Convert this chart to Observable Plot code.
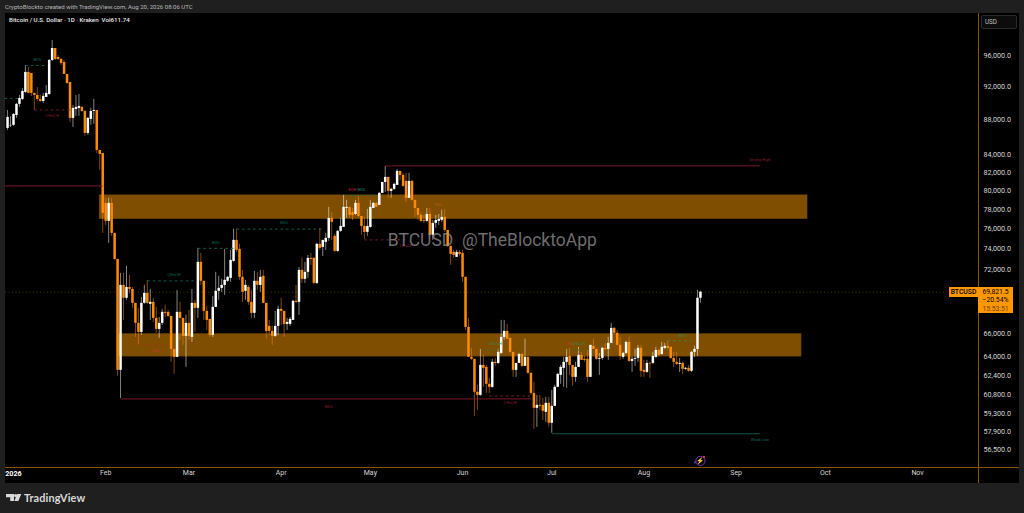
<!DOCTYPE html>
<html><head><meta charset="utf-8">
<script src="https://cdn.jsdelivr.net/npm/d3@7"></script>
<script src="https://cdn.jsdelivr.net/npm/@observablehq/plot@0.6"></script>
<style>
html,body{margin:0;padding:0;width:1024px;height:513px;background:#1f1f1f;overflow:hidden;font-family:Roboto,sans-serif}
.a{position:absolute;white-space:nowrap}
#chart{position:absolute;left:5px;top:13px;width:1014px;height:470px}
</style></head><body>
<div class="a" style="left:5px;top:3px;font-size:6.05px;line-height:8px;color:#b8b8b8">CryptoBlockto created with TradingView.com, Aug 20, 2026 08:06 UTC</div>
<div id="chart"></div>
<div class="a" style="left:9px;top:16px;font-size:6.15px;line-height:9px;color:#e8e8e8;font-weight:500">Bitcoin / U.S. Dollar · 1D · Kraken &nbsp;Vol611.74</div>
<div class="a" style="left:980.5px;top:15px;width:36px;height:14px;box-sizing:border-box;background:#0c0c0c;border:1px solid #2a2a2a;border-radius:2px;font-size:6.3px;line-height:12px;color:#c0c0c0;padding-left:3.5px">USD</div>
<div class="a" style="left:949px;top:287px;width:29px;height:10px;background:#ff9800;color:#000;font-size:6.8px;line-height:10px;text-align:center;font-weight:500">BTCUSD</div>
<div class="a" style="left:978px;top:287px;width:35px;height:26px;background:#ff9800;color:#000;font-size:6.8px;line-height:8.3px;text-align:center;padding-top:1px;box-sizing:border-box">69,821.5<br>−20.54%<br><span style="color:#6b4100">15:53:51</span></div>
<svg class="a" style="left:5px;top:492px" width="17" height="11" viewBox="0 0 17 11"><path d="M1 2h8v7H5.2V5.2H1z" fill="#d9d9d9"/><circle cx="10.6" cy="3.6" r="1.6" fill="#d9d9d9"/><path d="M12.3 2h4l-3 7h-4z" fill="#d9d9d9"/></svg>
<div class="a" style="left:24px;top:490px;font-size:10.9px;line-height:16px;color:#d9d9d9;font-family:Lato,sans-serif;font-weight:700;letter-spacing:.1px">TradingView</div>
<script>
const firstDay = -2;
const opens = [87030,87330,87390,88560,89890,90490,91350,93840,93710,91230,90980,90490,90250,90740,91100,95360,96910,95740,95490,95100,93590,92580,88210,89280,89400,89520,89040,86450,88090,89040,89160,84490,84150,78680,76800,78680,75570,72970,62850,70460,69250,70270,70080,68780,66950,66140,68780,69710,68690,68870,67400,66410,66950,67950,67950,67580,64650,63960,67950,67400,65790,66950,65700,68780,68320,72680,70850,68040,67310,65880,68410,69900,70180,70460,70850,71130,72770,74860,73960,71230,69900,70270,68870,67860,70850,70460,71330,68780,66680,66230,65790,66680,68220,68040,66860,66860,67220,68970,68870,71900,71040,71710,73070,73070,70650,74460,74160,74660,75060,77110,75270,73760,75770,76180,78150,78260,77730,77520,78680,77310,76280,75670,76180,78150,78680,78470,79750,80930,81480,79960,80180,80610,82140,81700,81040,79210,81040,79000,78150,77420,76900,76800,77520,75370,76590,76800,76900,77210,75870,74260,73660,73170,73660,73560,71230,66590,63960,63790,61020,60770,63270,63100,61680,61430,63530,63440,64300,65700,66230,65620,64390,62850,63440,64210,63190,63960,62600,60930,59720,59960,59960,59400,60120,58530,59880,61430,62430,63020,63530,64040,63270,62260,63100,64130,63790,63790,62260,64910,64650,63790,63870,64740,64650,65170,66500,66060,65000,63960,64300,65260,63610,63790,63870,64740,62850,62680,63440,63440,63960,64560,64210,64740,64910,64830,63870,63530,63360,63440,62940,63020,62770,64390,64650,69250];
const closes = [88330,87390,88680,89890,90610,91470,93840,91230,91230,90980,90490,90250,90860,91230,95360,96910,95490,95490,94980,93590,92460,88210,89400,89520,89640,89040,86450,88210,89040,89160,84490,84040,77630,76800,78680,75570,72970,62850,70460,69250,70270,70080,68780,66950,66140,68780,69710,68780,68870,67400,66410,66950,67950,67860,67580,64650,63960,67950,67400,65790,66950,65790,68780,68320,72680,70850,68040,67220,65880,68410,69900,70180,70460,70940,71230,72870,74860,73860,71230,69800,70460,68870,67860,70850,70460,71230,68780,66230,66230,65790,66680,68220,68040,66860,67040,67310,68970,68870,71900,71040,71710,73070,72970,70650,74460,74060,74860,75060,77110,76700,73760,75770,76280,78260,78260,77420,77420,78680,77310,76280,75670,76280,78260,78680,78260,79750,80930,81480,79960,80180,80720,82140,81700,80500,79210,81040,79000,78150,77420,76800,76800,77520,75370,76590,76900,77000,77210,75870,74260,73460,73360,73660,73460,71230,66590,63960,63790,61020,60770,63270,63020,61680,61430,63530,63440,64390,65700,66230,65530,64390,62850,63440,64210,63190,63960,62600,60930,59720,59960,59880,59480,60120,58530,59880,61430,62510,63100,63530,63960,63270,62260,63100,64130,63700,63700,62260,65000,64650,63790,63870,64740,64650,65170,66500,66060,65000,64040,64300,65260,63610,63790,63870,64740,62770,62680,63440,63400,64040,64560,64130,64830,64910,64740,63870,63530,63360,63440,62940,63020,62770,64390,64650,69250,69821.5];
const highs = [89160,88400,88800,90010,90980,91840,94720,94470,93710,91230,91960,90980,91230,92210,95490,97960,96910,96000,95610,95360,93590,92580,89760,90980,91100,89640,89160,88330,89400,90490,89160,84490,84150,79210,79210,79210,75570,72970,71610,71610,72290,71420,70270,68780,68320,69340,70460,70940,70080,69250,68410,67490,68220,68600,68130,67580,64650,69990,68870,67400,67670,68130,70080,69060,74060,73560,70850,68500,67310,69430,71710,71330,71040,73960,71330,73860,76000,76000,74460,71900,70940,70460,69990,71800,71710,71900,71900,68780,67220,66680,68040,68500,69250,68040,67400,67490,69060,70460,72190,73070,72680,73360,73560,73170,74560,76080,74860,75570,78260,77730,75470,75870,77110,79530,79000,78260,78150,79000,79530,77310,77210,78050,79000,78790,78790,79860,80930,82700,81480,80290,80830,82360,82140,81920,81920,81920,81150,79000,78150,77630,77420,78150,78150,76900,77420,77520,78050,78050,75870,74260,73860,73860,73860,73860,71230,67400,64740,63790,61600,64650,64130,63270,62180,63790,63870,64650,67220,67220,66860,65620,64390,63440,64300,64300,65530,63960,62600,61850,60770,60770,60520,60610,60610,61180,61600,62600,63270,63960,64650,64740,63270,63530,64830,64390,64040,64560,65000,65530,64650,64300,64830,65170,65700,66950,66590,66320,65700,64390,65350,65700,64040,64650,65000,65000,63700,63700,63530,64390,64830,64650,65260,65170,65350,64830,64390,64390,63870,63530,63100,63270,64470,64910,69990,69900];
const lows = [86800,87150,87270,88210,89520,90370,91230,91230,90860,89160,90250,90130,90010,90740,90980,95230,95360,95360,94720,93590,92340,87740,87150,88450,88450,88920,86100,86220,87390,87510,84150,82250,75570,76380,74560,75270,72870,62350,60520,67220,69060,69710,68320,65700,65000,65880,68690,68690,67220,67040,66060,65620,66770,67490,67490,63530,62510,63960,65440,65000,63100,65440,65260,66140,67400,70460,67220,66320,65700,65700,68410,69060,69800,69520,70750,70750,72680,73660,70940,68870,69060,68600,67400,67400,69990,69800,68780,65530,65880,65000,65700,65880,66770,65700,66320,66680,67220,68780,67680,70650,70650,71130,72380,70550,70550,73860,73260,73860,74760,74860,73660,73660,75670,76180,77110,77110,76900,77420,77210,75370,74960,75270,76080,78150,78260,78470,79750,79860,79210,79210,80070,80610,81150,80390,78790,79210,78890,77210,76900,76700,76590,76700,75170,74860,76080,76380,76700,75670,74160,72380,73070,73170,73260,70750,66320,63960,63700,59080,59560,60690,61430,60930,60930,61350,63190,63360,64210,65440,65530,64300,62260,62260,63440,63100,63190,62510,60770,58060,58210,59560,58760,58600,58210,57750,59880,61430,61680,61430,61350,62430,61520,61850,63100,63700,63530,61850,62260,64650,63700,62430,63700,64560,63700,65170,65880,65000,63700,63790,64210,63530,62680,63190,63530,62260,62260,62600,62180,63360,63870,64040,64130,64650,64650,63790,63100,63270,62680,62510,62850,62680,62680,63960,64040,68780];

const levelPrices = [90610,94720,89220,80550,70890,74060,76000,65040,60480,60720,74910,79530,82750,78050,64600,64600,65400,57710];
const levelStart = [-3,4,7,-3,45,62,75,42,36,160,118,112,125,140,159,186,220,181];
const levelEnd = [2,11,20,30,61,74,104,52,174,174,132,123,251,145,164,193,228,251];
const levelColors = ["#0c6a5c","#0c6a5c","#8a1c2e","#8a1c2e","#0c6a5c","#0c6a5c","#0c6a5c","#a8301f","#8a1c2e","#8a1c2e","#8a1c2e","#0c6a5c","#8a1c2e","#a8401f","#2f7a3a","#2f7a3a","#2f8a55","#0c5f52"];
const levelDashed = [1,1,1,0,1,1,1,1,0,1,1,1,0,1,1,1,1,0];

const noteTexts = ["BOS","CHoCH","CHoCH","BOS","BOS","BOS","BOS","CHoCH","CHoCH","EQH","BOS","Strong High","EQL","CHoCH","EQ","CHoCH","BOS","Weak Low"];
const noteDays = [8,13,54,68,91,48,106,167,132,114,117,251,143,162,187,190,225,251];
const notePrices = [95490,88560,71510,74660,76690,64560,59880,60200,74360,80180,80180,83470,78580,65100,65100,65100,65880,57280];
const noteColors = ["#0c6a5c","#8a1c2e","#0c6a5c","#0c6a5c","#0c6a5c","#c0392b","#8a1c2e","#8a1c2e","#8a1c2e","#c02030","#0c8a70","#8a1c2e","#c0502b","#2f8a55","#c83a2a","#2f8a55","#1f8a65","#0c6a5c"];

const zoneHigh = [79530,66000];
const zoneLow = [77050,64020];
const zoneStart = [29,35];
const zoneEnd = [267,265];
const zoneEdges = ["#7f4e00","#5e3a00"];

const priceTicks = [96000,92000,88000,84000,82000,80000,78000,76000,74000,72000,66000,64000,62400,60800,59300,57900,56500];
const monthTicks = ["2026-02-01","2026-03-01","2026-04-01","2026-05-01","2026-06-01","2026-07-01","2026-08-01","2026-09-01","2026-10-01","2026-11-01"];
const yearTick = "2026-01-01";
const lastPrice = 69821.5;

const t0 = Date.UTC(2026,0,1);
const day = d => new Date(t0 + d*864e5);
const candles = opens.map((o,i)=>({date:day(firstDay+i),o,c:closes[i],h:highs[i],l:lows[i],up:closes[i]>=o}));
const zones = zoneHigh.map((h,i)=>({h,l:zoneLow[i],a:day(zoneStart[i]),b:day(zoneEnd[i]),e:zoneEdges[i]}));
const levels = levelPrices.map((p,i)=>({p,a:day(levelStart[i]),b:day(levelEnd[i]),c:levelColors[i],dashed:levelDashed[i]}));
const notes = noteTexts.map((t,i)=>({t,x:day(noteDays[i]),y:notePrices[i],c:noteColors[i]}));
const WHITE="#ffffff", ORANGE="#ff8c00";

const chart = Plot.plot({
  width:1014,height:470,marginTop:0,marginLeft:0,marginRight:41,marginBottom:16,
  style:{background:"#000",color:"#d6d6d6",fontFamily:"Roboto,sans-serif",overflow:"visible"},
  x:{type:"utc",domain:[day(-2.69),day(324.5)],range:[0,973]},
  y:{type:"log",domain:[55150,101580],range:[454,0]},
  marks:[
    Plot.ruleY([lastPrice],{stroke:"#8a6a20",strokeOpacity:.7,strokeWidth:.7,strokeDasharray:"1,2.5"}),
    Plot.rect(zones,{x1:"a",x2:"b",y1:"l",y2:"h",fill:"#7f4e00",stroke:"e",strokeWidth:.6}),
    Plot.ruleX(candles,{x:"date",y1:"l",y2:"h",stroke:d=>d.up?WHITE:ORANGE,strokeWidth:.8,strokeOpacity:.65}),
    Plot.ruleX(candles,{x:"date",y1:"o",y2:"c",stroke:d=>d.up?WHITE:ORANGE,strokeWidth:2.5}),
    Plot.link(levels,{filter:d=>!d.dashed,x1:"a",x2:"b",y1:"p",y2:"p",stroke:"c",strokeWidth:.9}),
    Plot.link(levels,{filter:d=>d.dashed,x1:"a",x2:"b",y1:"p",y2:"p",stroke:"c",strokeWidth:.9,strokeDasharray:"2.5,3"}),
    Plot.text(notes,{x:"x",y:"y",text:"t",fill:"c",fontSize:4}),
    Plot.text(["BTCUSD\u00a0\u00a0@TheBlocktoApp"],{x:day(161),y:74860,fill:"#9a9a9a",fillOpacity:.72,fontSize:17.5,fontFamily:"Roboto,sans-serif"}),
    Plot.dot([day(231)],{x:d=>d,y:()=>55640,r:4.6,stroke:"#7a2fc0",strokeWidth:1,fill:"#000"}),
    Plot.text(["\u26a1"],{x:day(231),y:55640,fill:"#7a2fc0",fontSize:6.5}),
    Plot.dot([day(231)],{x:d=>d,y:()=>55640,r:1.1,dx:3.5,dy:-4,fill:"#e53935"}),
    Plot.dot([day(231)],{x:d=>d,y:()=>55640,r:1.1,dx:-5.5,dy:1.5,fill:"#4a3fd0"}),
    Plot.ruleX([day(324.5)],{stroke:"#8a5400",strokeWidth:1,insetBottom:-16}),
    Plot.ruleY([55150],{stroke:"#8a5400",strokeWidth:1,insetRight:-41}),
    Plot.axisY(priceTicks,{anchor:"right",tickSize:0,tickPadding:5,fontSize:7.2,tickFormat:d3.format(",.1f"),label:null}),
    Plot.axisX(monthTicks.map(s=>new Date(s)),{anchor:"bottom",tickSize:0,tickPadding:3,fontSize:7,tickFormat:d3.utcFormat("%b"),label:null}),
    Plot.axisX([new Date(yearTick)],{anchor:"bottom",tickSize:0,tickPadding:3,fontSize:7.2,fontWeight:700,tickFormat:()=>"2026",label:null,fill:"#fff"})
  ]
});
document.getElementById("chart").appendChild(chart);
</script>
</body></html>
